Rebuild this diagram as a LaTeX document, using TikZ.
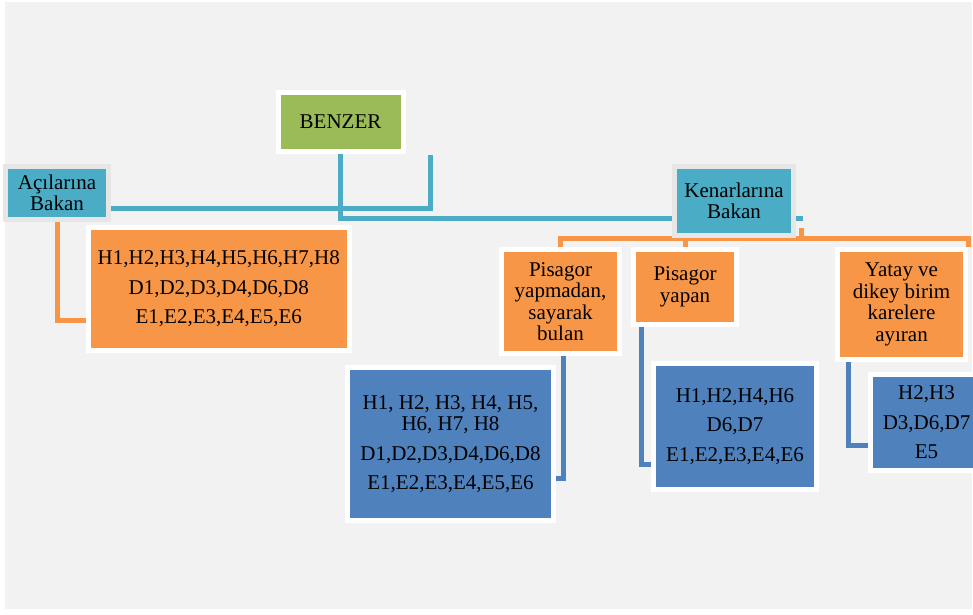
\documentclass[tikz,border=0pt]{standalone}
\usepackage{fontspec}
\setmainfont{Liberation Serif}
\usetikzlibrary{calc}
\definecolor{bggray}{HTML}{F2F2F2}
\definecolor{framegray}{HTML}{E6E6E6}
\definecolor{orfill}{HTML}{F79646}
\definecolor{tealfill}{HTML}{4BACC6}
\definecolor{greenfill}{HTML}{9BBB59}
\definecolor{bluefill}{HTML}{4F81BD}
\pgfdeclarelayer{back}
\pgfdeclarelayer{lines}
\pgfsetlayers{back,lines,main}
\begin{document}
\begin{tikzpicture}[x=0.75pt,y=-0.75pt,
  box/.style={rectangle, draw=white, line width=3.75pt, inner sep=0pt, align=center,
    font=\fontsize{15.75}{16.1}\selectfont, text=black},
  sz/.style 2 args={minimum width={#1*0.75pt}, minimum height={#2*0.75pt}},
  tealbox/.style={box, fill=tealfill, draw=framegray},
  greenbox/.style={box, fill=greenfill},
  orbox/.style={box, fill=orfill},
  bluebox/.style={box, fill=bluefill},
  conn/.style={line width=3.75pt},
  tealconn/.style={conn, draw=tealfill},
  orconn/.style={conn, draw=orfill},
  blueconn/.style={conn, draw=bluefill}]
\useasboundingbox (0,0) rectangle (973,614);
\clip (0,0) rectangle (973,614);
\begin{pgfonlayer}{back}
  \fill[white] (0,0) rectangle (973,614);
  \fill[bggray] (5,2) rectangle (972,609);
\end{pgfonlayer}

\node[tealbox, sz={103}{53.5}] (aci) at (57,192.75) {Açılarına\\Bakan};
\node[greenbox, sz={125}{59.5}] (benzer) at (340.5,121.75) {BENZER};
\node[tealbox, sz={119}{69.5}] (ken) at (734,200.75) {Kenarlarına\\Bakan};
\node[orbox, sz={261.5}{123}] (hbox) at (218.75,289)
  {H1,H2,H3,H4,H5,H6,H7,H8\\[6pt]D1,D2,D3,D4,D6,D8\\[6pt]E1,E2,E3,E4,E5,E6};
\node[orbox, sz={118}{104}] (pym) at (560.5,301.5) {Pisagor\\yapmadan,\\sayarak\\bulan};
\node[orbox, sz={103}{75}] (py) at (685,287) {Pisagor\\yapan};
\node[orbox, sz={128}{110}] (yatay) at (901.5,304.5) {Yatay ve\\dikey birim\\karelere\\ayıran};
\node[bluebox, sz={206}{153}] (b1) at (450.5,444)
  {H1, H2, H3, H4, H5,\\H6, H7, H8\\[6pt]D1,D2,D3,D4,D6,D8\\[6pt]E1,E2,E3,E4,E5,E6};
\node[bluebox, sz={163}{126}] (b2) at (735,426.5)
  {H1,H2,H4,H6\\[6pt]D6,D7\\[6pt]E1,E2,E3,E4,E6};
\node[bluebox, sz={112}{96}] (b3) at (926.5,422.5)
  {H2,H3\\[6pt]D3,D6,D7\\[6pt]E5};

\begin{pgfonlayer}{lines}
  % teal connectors
  \draw[tealconn] ($(aci.east)+(0,15.75)$) -| ($(benzer.south east)+(25,0.5)$);
  \draw[tealconn] (benzer.south) |- ($(ken.east)+(6.5,18)$);
  % orange connectors
  \draw[orconn] (aci.south) |- ($(hbox.west)+(0,31.5)$);
  \draw[orconn] (pym.north) -- (pym.north |- ken.south) -- (yatay.north east |- ken.south) -- (yatay.north east);
  \draw[orconn] (py.north) -- (py.north |- ken.south);
  \draw[orconn] ($(ken.south east)+(5.5,-10)$) -- ($(ken.south east)+(5.5,0)$);
  % blue connectors
  \draw[blueconn] ($(pym.south)+(2.5,0)$) |- ($(b1.east)+(0,34.5)$);
  \draw[blueconn] ($(py.south west)+(10.5,0)$) |- ($(b2.west)+(0,37.5)$);
  \draw[blueconn] ($(yatay.south west)+(13,0)$) |- ($(b3.west)+(0,23)$);
\end{pgfonlayer}
\end{tikzpicture}
\end{document}
